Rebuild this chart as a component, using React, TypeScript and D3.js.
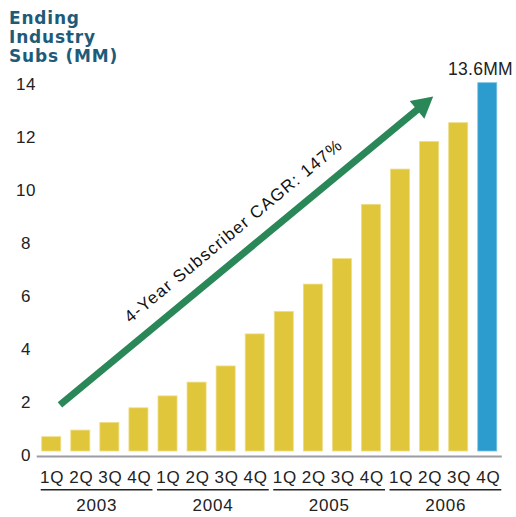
import React from "react";
import * as d3 from "d3";

const quarters = ["1Q", "2Q", "3Q", "4Q"];
const years = ["2003", "2004", "2005", "2006"];
const subs = [0.69, 0.94, 1.23, 1.78, 2.23, 2.75, 3.36, 4.57, 5.42, 6.45, 7.41, 9.46, 10.79, 11.83, 12.54, 14.05];
const yTicks = [0, 2, 4, 6, 8, 10, 12, 14];
const titleLines = ["Ending", "Industry", "Subs (MM)"];
const finalLabel = "13.6MM";
const arrowLabel = "4-Year Subscriber CAGR: 147%";
// arrow endpoints in (bar index, value) space
const arrowFrom = { i: 0.3, v: 1.89 };
const arrowTo = { i: 13.14, v: 13.53 };

const W = 516;
const H = 517;

export default function App() {
  const keys = years.flatMap((y) => quarters.map((q) => `${q}-${y}`));
  const x = d3.scaleBand<string>().domain(keys).range([36.7, 501.8]).paddingInner(0.345).paddingOuter(0.1725);
  const y = d3.scaleLinear().domain([0, 14]).range([455, 84]);
  const bw = x.bandwidth();
  const step = x.step();
  const xi = (i: number) => (x(keys[0]) as number) + bw / 2 + i * step;

  const x0 = xi(arrowFrom.i), y0 = y(arrowFrom.v);
  const x1 = xi(arrowTo.i), y1 = y(arrowTo.v);
  const dx = x1 - x0, dy = y1 - y0;
  const len = Math.hypot(dx, dy);
  const ux = dx / len, uy = dy / len;
  const nx = uy, ny = -ux; // up-left normal
  const headLen = 21, headHalf = 11.5;
  const bx = x1 - ux * headLen, by = y1 - uy * headLen;
  const angle = (Math.atan2(dy, dx) * 180) / Math.PI;
  const tAlong = 106, tPerp = 18;
  const tx = x0 + ux * tAlong + nx * tPerp;
  const ty = y0 + uy * tAlong + ny * tPerp;

  const base = y(0);
  const font = "'Liberation Sans', Arial, sans-serif";

  return (
    <svg width={W} height={H} style={{ position: "absolute", left: 0, top: 0, background: "#fff" }}>
      {/* title */}
      <text x={9} y={24} fill="#1e5b78" fontFamily="'DejaVu Sans', Verdana, sans-serif" fontWeight="bold" fontSize={17} letterSpacing={0.8}>
        {titleLines.map((t, k) => (
          <tspan key={k} x={9} dy={k === 0 ? 0 : 19}>{t}</tspan>
        ))}
      </text>

      {/* y ticks */}
      {yTicks.map((t) => (
        <text key={t} x={26} y={y(t)} dy="0.35em" textAnchor="middle" fontFamily={font} fontSize={17} fill="#222" letterSpacing={0.5}>
          {t}
        </text>
      ))}

      {/* bars */}
      {subs.map((v, i) => (
        <rect
          key={keys[i]}
          x={x(keys[i])}
          y={y(v)}
          width={bw}
          height={base - 4 - y(v)}
          fill={i === subs.length - 1 ? "#2b9ccd" : "#dfc63a"}
          stroke={i === subs.length - 1 ? "#7cc3e3" : "#eedd88"}
          strokeWidth={0.8}
        />
      ))}

      {/* axis line */}
      <line x1={x.range()[0]} x2={x.range()[1]} y1={base + 1.5} y2={base + 1.5} stroke="#9c9ca4" strokeWidth={2} />

      {/* quarter labels */}
      {keys.map((k, i) => (
        <text key={k} x={(x(k) as number) + bw / 2 + 1} y={483} textAnchor="middle" fontFamily={font} fontSize={17} fill="#222" letterSpacing={0.8}>
          {quarters[i % 4]}
        </text>
      ))}

      {/* year groups */}
      {years.map((yr, g) => {
        const gs = x.range()[0] + g * 4 * step;
        const ge = gs + 4 * step;
        return (
          <g key={yr}>
            <line x1={gs + 4} x2={ge - 0.5} y1={489.7} y2={489.7} stroke="#222" strokeWidth={1.6} />
            <text x={(gs + 4 + ge) / 2} y={511} textAnchor="middle" fontFamily={font} fontSize={17} fill="#222" letterSpacing={0.8}>
              {yr}
            </text>
          </g>
        );
      })}

      {/* final label */}
      <text x={513} y={75} textAnchor="end" fontFamily={font} fontSize={17.5} fill="#222" letterSpacing={0.3}>
        {finalLabel}
      </text>

      {/* CAGR arrow */}
      <line x1={x0} y1={y0} x2={bx + ux * 1} y2={by + uy * 1} stroke="#2a8757" strokeWidth={7} />
      <polygon
        points={`${x1},${y1} ${bx + nx * headHalf},${by + ny * headHalf} ${bx - nx * headHalf},${by - ny * headHalf}`}
        fill="#2a8757"
      />
      <text x={tx} y={ty} transform={`rotate(${angle} ${tx} ${ty})`} fontFamily={font} fontSize={17} fill="#111" letterSpacing={1.25}>
        {arrowLabel}
      </text>
    </svg>
  );
}
